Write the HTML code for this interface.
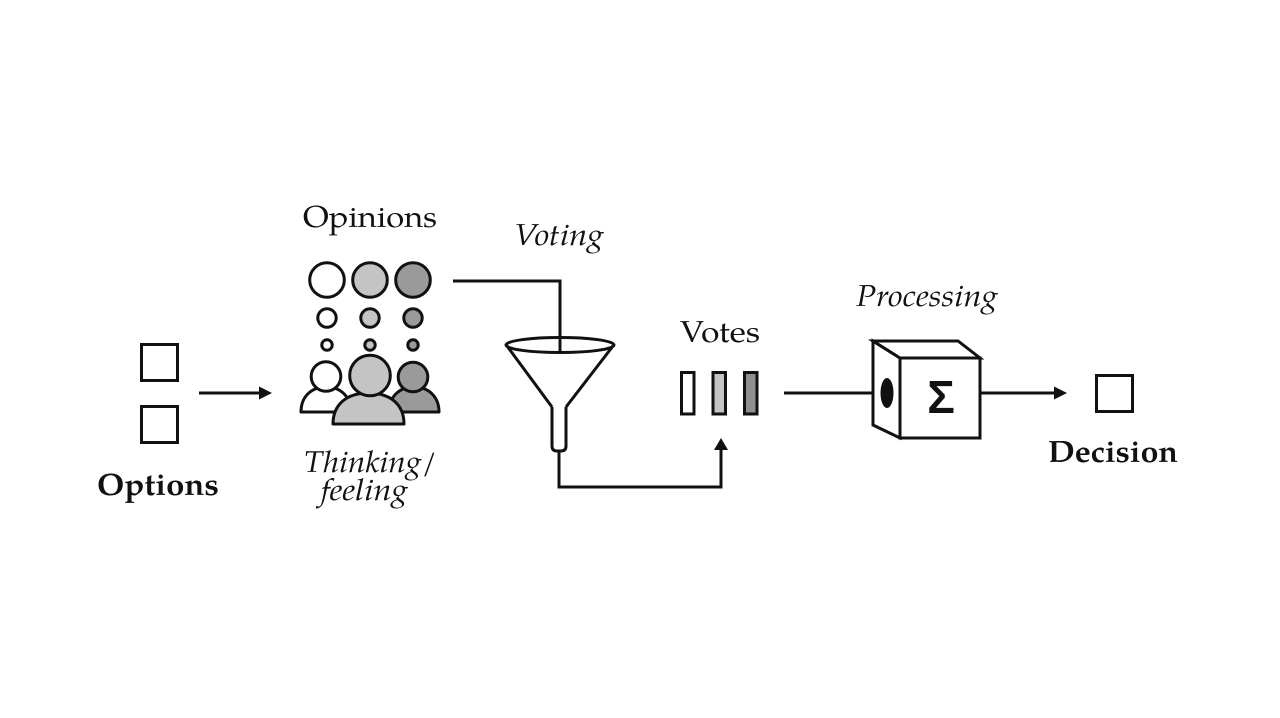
<!DOCTYPE html>
<html>
<head>
<meta charset="utf-8">
<style>
  html,body{margin:0;padding:0;background:#fff;}
  svg{display:block;}
  .t{font-family:"Palatino Linotype","Book Antiqua","URW Palladio L","TeX Gyre Pagella","Liberation Serif",serif;fill:#111;}
</style>
</head>
<body>
<svg width="1280" height="718" viewBox="0 0 1280 718" xmlns="http://www.w3.org/2000/svg">
  <rect width="1280" height="718" fill="#fff"/>
  <g fill="none" stroke="#111" stroke-width="3">
    <!-- Options boxes -->
    <rect x="141.5" y="344.5" width="36" height="36" fill="#fff"/>
    <rect x="141.5" y="406.5" width="36" height="36" fill="#fff"/>
    <!-- arrow options -> people -->
    <line x1="199" y1="393" x2="262" y2="393"/>
  </g>
  <polygon points="272,393 259,386.5 259,399.5" fill="#111"/>

  <!-- thought bubbles -->
  <g stroke="#111" stroke-width="3">
    <circle cx="327" cy="280" r="17.3" fill="#fff"/>
    <circle cx="370" cy="280" r="17.3" fill="#c4c4c4"/>
    <circle cx="413" cy="280" r="17.3" fill="#9a9a9a"/>
    <circle cx="327" cy="318" r="9.2" fill="#fff"/>
    <circle cx="370" cy="318" r="9.2" fill="#c4c4c4"/>
    <circle cx="413" cy="318" r="9.2" fill="#9a9a9a"/>
    <circle cx="327" cy="345" r="5.2" fill="#fff"/>
    <circle cx="370" cy="345" r="5.2" fill="#c4c4c4"/>
    <circle cx="413" cy="345" r="5.2" fill="#9a9a9a"/>
    <!-- people -->
    <path d="M301,412 C301,397 311,387 326,387 C341,387 351,397 351,412 Z" fill="#fff" stroke-linejoin="round"/>
    <circle cx="326" cy="376.5" r="14.8" fill="#fff"/>
    <path d="M389,412 C389,397 399,387 414,387 C429,387 439,397 439,412 Z" fill="#9a9a9a" stroke-linejoin="round"/>
    <circle cx="413" cy="377" r="14.8" fill="#9a9a9a"/>
    <path d="M333,424 C333,405 346,393 368.5,393 C391,393 404,405 404,424 Z" fill="#c4c4c4" stroke-linejoin="round"/>
    <circle cx="370" cy="375.5" r="20.3" fill="#c4c4c4"/>
  </g>

  <!-- voting connector & funnel -->
  <g fill="none" stroke="#111" stroke-width="3">
    <polyline points="453,281 560,281 560,352"/>
    <ellipse cx="560" cy="345" rx="54" ry="7.5"/>
    <line x1="507" y1="346" x2="552" y2="407"/>
    <line x1="613" y1="346" x2="566" y2="407"/>
    <path d="M552,407 L552,446 Q552,451 557,451 L561,451 Q566,451 566,446 L566,407"/>
    <polyline points="559,451 559,487 721,487 721,448"/>
    <!-- vote bars -->
    <rect x="681.5" y="372.5" width="12.5" height="41.5" fill="#fff"/>
    <rect x="713" y="372.5" width="12.5" height="41.5" fill="#c4c4c4"/>
    <rect x="744.5" y="372.5" width="12.5" height="41.5" fill="#8f8f8f"/>
    <!-- line into cube -->
    <line x1="784" y1="393" x2="882" y2="393"/>
    <!-- cube -->
    <polygon points="873,341 900,358 900,438 873,425" fill="#fff" stroke-linejoin="miter"/>
    <polygon points="873,341 958,341 980,358 900,358" fill="#fff" stroke-linejoin="miter"/>
    <rect x="900" y="358" width="80" height="80" fill="#fff"/>
    <!-- arrow to decision -->
    <line x1="981" y1="393" x2="1056" y2="393"/>
    <rect x="1096.5" y="375.5" width="36" height="36" fill="#fff"/>
  </g>
  <polygon points="721,438 714,450 728,450" fill="#111"/>
  <ellipse cx="887" cy="393" rx="6.5" ry="15" fill="#111"/>
  <polygon points="1067,393 1054,386.5 1054,399.5" fill="#111"/>
  <text x="941" y="413" text-anchor="middle" font-family="'Liberation Sans',sans-serif" font-weight="bold" font-size="46" fill="#111">Σ</text>

  <!-- labels -->
  <text class="t" x="303" y="227" font-size="30" textLength="134" lengthAdjust="spacingAndGlyphs">Opinions</text>
  <text class="t" x="514" y="245" font-size="30" font-style="italic" textLength="90" lengthAdjust="spacingAndGlyphs">Voting</text>
  <text class="t" x="680" y="342" font-size="30" textLength="80" lengthAdjust="spacingAndGlyphs">Votes</text>
  <text class="t" x="856" y="306" font-size="30" font-style="italic" textLength="142" lengthAdjust="spacingAndGlyphs">Processing</text>
  <text class="t" x="304" y="472" font-size="30" font-style="italic" textLength="133" lengthAdjust="spacingAndGlyphs">Thinking/</text>
  <text class="t" x="321" y="500" font-size="30" font-style="italic" textLength="87" lengthAdjust="spacingAndGlyphs">feeling</text>
  <text class="t" x="97" y="495" font-size="31" font-weight="bold" textLength="122" lengthAdjust="spacingAndGlyphs">Options</text>
  <text class="t" x="1048" y="462" font-size="31" font-weight="bold" textLength="130" lengthAdjust="spacingAndGlyphs">Decision</text>
</svg>
</body>
</html>
